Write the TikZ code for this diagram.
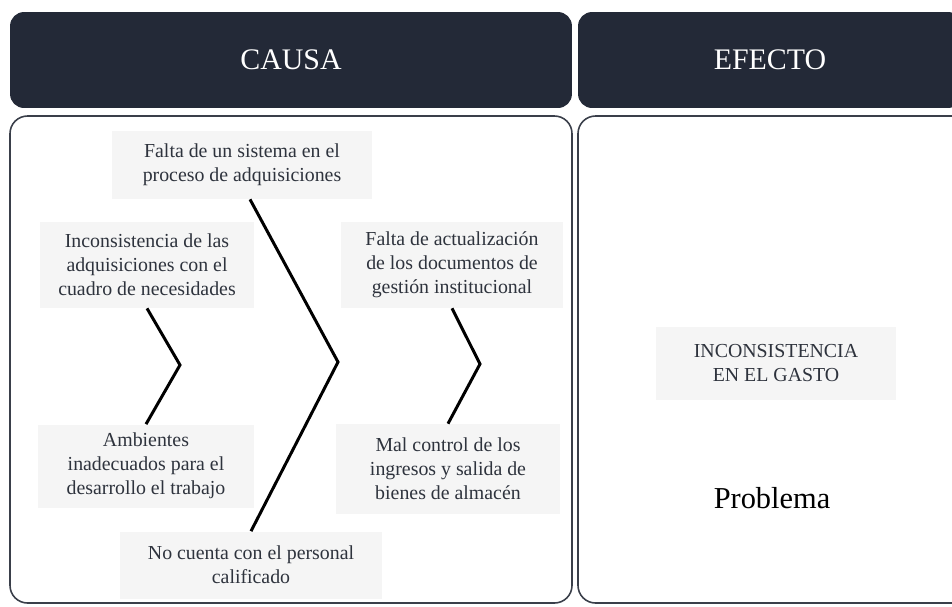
\documentclass[tikz,border=0pt]{standalone}
\usepackage{fontspec}
\setmainfont{Liberation Serif}
\usetikzlibrary{calc}
\definecolor{navy}{HTML}{232937}
\definecolor{frame}{HTML}{3A3F4A}
\definecolor{cell}{HTML}{F5F5F5}
\definecolor{ink}{HTML}{2E333D}
\tikzset{
  head/.style={fill=navy, text=white, rounded corners=8pt, inner sep=0pt,
               font=\fontsize{17}{20}\selectfont},
  panel/.style={draw=frame, line width=0.9pt, rounded corners=10pt},
  cause/.style={fill=cell, text=ink, align=center, inner sep=0pt,
                font=\fontsize{11.3}{13.6}\selectfont},
  bone/.style={line width=1.7pt, black},
}

\begin{document}
\begin{tikzpicture}[x=0.02cm, y=-0.02cm]
    \clip (0,0) rectangle (952,606);
    % headers and panels
    \node[head, minimum width=11.24cm, minimum height=1.92cm] (causa) at (291,60) {CAUSA};
    \node[head, minimum width=7.68cm, minimum height=1.92cm] (efecto) at (770,60) {EFECTO};
    \draw[panel] (10,116) rectangle (572,603);
    \draw[panel] (578,116) rectangle (970,603);
    % causes
    \node[cause, minimum width=5.22cm, minimum height=1.36cm] (sistema) at (242,165)
      {Falta de un sistema en el\\proceso de adquisiciones};
    \node[cause, minimum width=4.3cm, minimum height=1.72cm] (inconsist) at (147,265)
      {Inconsistencia de las\\adquisiciones con el\\cuadro de necesidades};
    \node[cause, minimum width=4.44cm, minimum height=1.72cm] (actualiz) at (452,265)
      {Falta de actualización\\de los documentos de\\gestión institucional};
    \node[cause, minimum width=4.32cm, minimum height=1.66cm] (ambientes) at (146,466)
      {Ambientes\\inadecuados para el\\desarrollo el trabajo};
    \node[cause, minimum width=4.48cm, minimum height=1.8cm] (control) at (448,469)
      {Mal control de los\\ingresos y salida de\\bienes de almacén};
    \node[cause, minimum width=5.24cm, minimum height=1.34cm] (personal) at (251,565)
      {No cuenta con el personal\\calificado};
    % bones
    \coordinate (spine) at (338,362);
    \coordinate (leftbend) at (180,365);
    \coordinate (rightbend) at (480,364);
    \draw[bone] ([xshift=8*0.02cm]sistema.south) -- (spine) -- (personal.north);
    \draw[bone] (inconsist.south) -- (leftbend) -- (ambientes.north);
    \draw[bone] (actualiz.south) -- (rightbend) -- (control.north);
    % effect
    \node[cause, fill=cell!80!gray!30, minimum width=4.82cm, minimum height=1.46cm] (gasto) at (776,363)
      {INCONSISTENCIA\\EN EL GASTO};
    \node[font=\fontsize{17.3}{20}\selectfont] (problema) at (772,498) {Problema};
\end{tikzpicture}
\end{document}
